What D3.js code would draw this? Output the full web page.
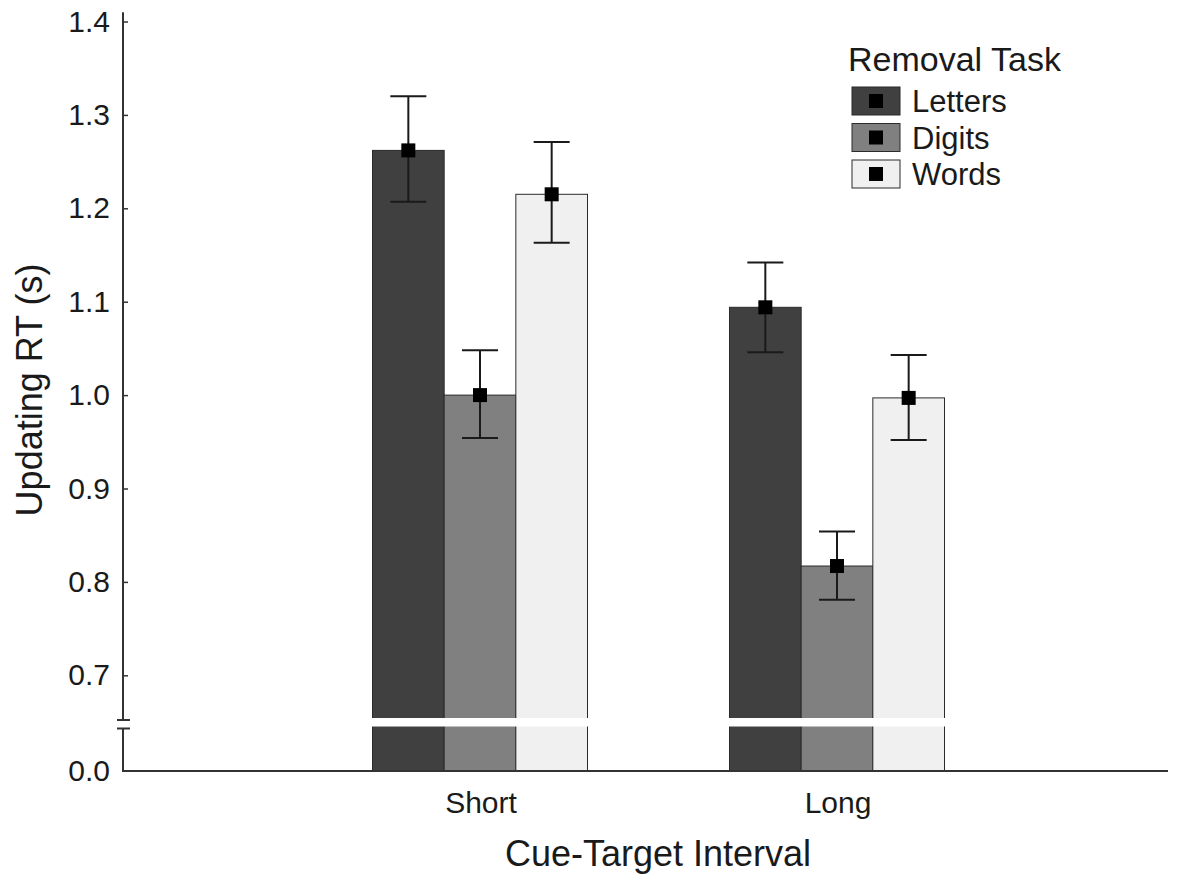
<!DOCTYPE html>
<html>
<head>
  <style type="text/css">
    body { margin: 0; background: #fff; }
    text { font-family: "Liberation Sans", Arial, sans-serif; fill: #1a1a1a; }
  </style>
</head>
<body>
  <svg width="1183" height="879" id="chart"></svg>

  <script src="https://d3js.org/d3.v7.min.js"></script>
  <script>

// data
let intervals = ['Short', 'Long']
let tasks = ['Letters', 'Digits', 'Words']
let taskColors = ['#404040', '#808080', '#f0f0f0']
let means = {
  Short: [1.262, 1.000, 1.215],
  Long:  [1.094, 0.817, 0.997]
}
let upper = {
  Short: [1.320, 1.048, 1.271],
  Long:  [1.142, 0.854, 1.043]
}
let lower = {
  Short: [1.207, 0.954, 1.163],
  Long:  [1.046, 0.781, 0.952]
}
let yTicks = [0, 0.7, 0.8, 0.9, 1.0, 1.1, 1.2, 1.3, 1.4]

function translate(x, y) { return 'translate(' + x + ',' + y + ')'; }

let svg = d3.select('#chart')

// broken axis: 0 sits at the baseline, 0.65 is the break
let y = d3.scaleLinear().domain([0, 0.65, 1.4]).range([771, 722, 21.5])
let x = d3.scalePoint().domain(intervals).range([123, 1194]).padding(1)
let inner = d3.scaleBand().domain(tasks).range([-107.5, 107.5])
let color = d3.scaleOrdinal().domain(tasks).range(taskColors)

let rows = []
intervals.forEach(c => {
  tasks.forEach((t, i) => {
    rows.push({ interval: c, task: t, mean: means[c][i], hi: upper[c][i], lo: lower[c][i] })
  })
})

let plot = svg.append('g')

// bars
plot.selectAll('rect.bar')
  .data(rows)
  .enter()
  .append('rect')
    .attr('class', 'bar')
    .attr('x', d => x(d.interval) + inner(d.task))
    .attr('width', inner.bandwidth())
    .attr('y', d => y(d.mean))
    .attr('height', d => y(0) - y(d.mean))
    .attr('fill', d => color(d.task))
    .attr('stroke', '#2a2a2a')
    .attr('stroke-width', 1)

// white break band across the bars
let breakTop = y(0.65) - 4, breakBot = y(0.65) + 4.5
plot.selectAll('rect.gap')
  .data(intervals)
  .enter()
  .append('rect')
    .attr('class', 'gap')
    .attr('x', d => x(d) + inner.range()[0] - 1)
    .attr('width', inner.range()[1] - inner.range()[0] + 2)
    .attr('y', breakTop)
    .attr('height', breakBot - breakTop)
    .attr('fill', '#fff')

// error bars
let errs = plot.selectAll('g.err')
  .data(rows)
  .enter()
  .append('g')
    .attr('class', 'err')
    .attr('transform', d => translate(x(d.interval) + inner(d.task) + inner.bandwidth() / 2, 0))

errs.append('line')
  .attr('y1', d => y(d.hi)).attr('y2', d => y(d.lo))
  .attr('stroke', '#1a1a1a').attr('stroke-width', 2)
errs.append('line')
  .attr('x1', -18).attr('x2', 18)
  .attr('y1', d => y(d.hi)).attr('y2', d => y(d.hi))
  .attr('stroke', '#1a1a1a').attr('stroke-width', 2)
errs.append('line')
  .attr('x1', -18).attr('x2', 18)
  .attr('y1', d => y(d.lo)).attr('y2', d => y(d.lo))
  .attr('stroke', '#1a1a1a').attr('stroke-width', 2)
errs.append('rect')
  .attr('x', -7).attr('width', 14)
  .attr('y', d => y(d.mean) - 7).attr('height', 14)
  .attr('fill', '#000')

// y axis
let yAxis = svg.append('g')
  .attr('transform', translate(123, 0))
  .call(d3.axisLeft(y).tickValues(yTicks).tickFormat(d3.format('.1f')).tickSizeInner(-5).tickSizeOuter(0).tickPadding(13))
yAxis.select('.domain').remove()
yAxis.selectAll('.tick line').attr('stroke', '#333').attr('stroke-width', 1.5)
yAxis.selectAll('.tick').filter(d => d === 0).select('line').remove()
yAxis.selectAll('.tick text').attr('font-size', 30).attr('fill', '#1a1a1a')
  .attr('font-family', '"Liberation Sans", Arial, sans-serif')

let axisColor = '#333'
svg.append('line')
  .attr('x1', 123).attr('x2', 123)
  .attr('y1', y(1.41)).attr('y2', breakTop + 2)
  .attr('stroke', axisColor).attr('stroke-width', 2)
svg.append('line')
  .attr('x1', 123).attr('x2', 123)
  .attr('y1', breakBot + 2).attr('y2', y(0))
  .attr('stroke', axisColor).attr('stroke-width', 2)
// break marks
svg.selectAll('line.brk')
  .data([breakTop + 2, breakBot + 2])
  .enter()
  .append('line')
    .attr('class', 'brk')
    .attr('x1', 117).attr('x2', 130)
    .attr('y1', d => d).attr('y2', d => d)
    .attr('stroke', axisColor).attr('stroke-width', 2)

// x axis
svg.append('line')
  .attr('x1', 122).attr('x2', 1168)
  .attr('y1', y(0)).attr('y2', y(0))
  .attr('stroke', axisColor).attr('stroke-width', 2)

svg.selectAll('text.cat')
  .data(intervals)
  .enter()
  .append('text')
    .attr('class', 'cat')
    .attr('x', d => x(d) + 1)
    .attr('y', 813)
    .attr('text-anchor', 'middle')
    .attr('font-size', 30)
    .text(d => d)

svg.append('text')
  .attr('x', 658).attr('y', 866)
  .attr('text-anchor', 'middle')
  .attr('font-size', 36)
  .text('Cue-Target Interval')

svg.append('text')
  .attr('transform', translate(42, 390) + ' rotate(-90)')
  .attr('text-anchor', 'middle')
  .attr('font-size', 36)
  .text('Updating RT (s)')

// legend
let legend = svg.append('g').attr('transform', translate(848, 0))
legend.append('text')
  .attr('x', 0).attr('y', 71)
  .attr('font-size', 34)
  .text('Removal Task')

let entries = legend.selectAll('g.entry')
  .data(tasks)
  .enter()
  .append('g')
    .attr('class', 'entry')
    .attr('transform', (d, i) => translate(4, 87 + i * 36.5))

entries.append('rect')
  .attr('width', 48).attr('height', 28)
  .attr('fill', d => color(d))
  .attr('stroke', '#2a2a2a').attr('stroke-width', 1)
entries.append('rect')
  .attr('x', 17).attr('y', 7)
  .attr('width', 14).attr('height', 14)
  .attr('fill', '#000')
entries.append('text')
  .attr('x', 60).attr('y', 25)
  .attr('font-size', 31)
  .text(d => d)

  </script>
</body>
</html>
